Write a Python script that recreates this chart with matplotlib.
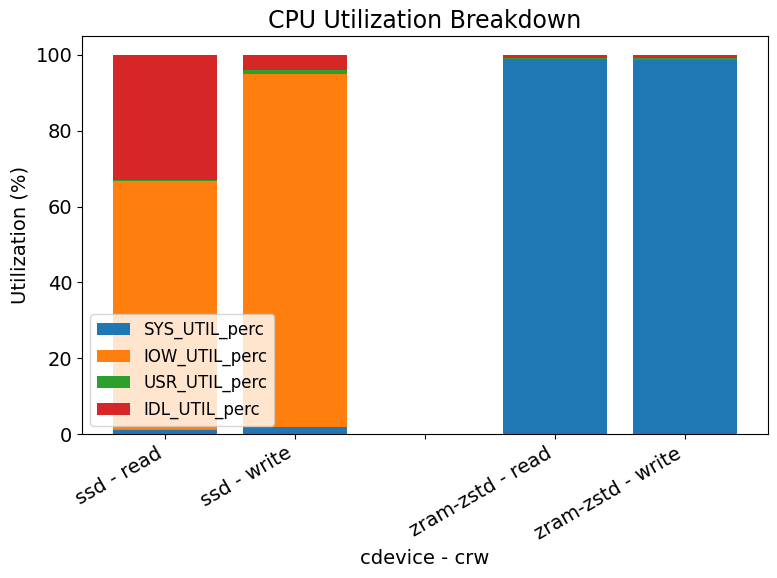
import matplotlib
matplotlib.use("Agg")
import matplotlib.pyplot as plt
import numpy as np

categories = ["ssd - read", "ssd - write", "", "zram-zstd - read", "zram-zstd - write"]
sys_util = [1.05, 1.9, 0.0, 98.9, 98.7]
iow_util = [65.7, 93.1, 0.0, 0.0, 0.0]
usr_util = [0.3, 1.0, 0.0, 0.4, 0.6]
idl_util = [32.95, 4.0, 0.0, 0.7, 0.7]

series = [
    ("SYS_UTIL_perc", sys_util, "#1f77b4"),
    ("IOW_UTIL_perc", iow_util, "#ff7f0e"),
    ("USR_UTIL_perc", usr_util, "#2ca02c"),
    ("IDL_UTIL_perc", idl_util, "#d62728"),
]

fig, ax = plt.subplots(figsize=(7.77, 5.78), dpi=100)
x = np.arange(len(categories))
bottom = np.zeros(len(categories))
for name, vals, color in series:
    v = np.array(vals, dtype=float)
    ax.bar(x, v, 0.8, bottom=bottom, label=name, color=color)
    bottom += v

ax.set_xticks(x)
ax.set_xticklabels(categories, rotation=30, ha="right", fontsize=14)
ax.tick_params(axis="y", labelsize=14)
ax.set_xlabel("cdevice - crw", fontsize=14)
ax.set_ylabel("Utilization (%)", fontsize=14)
ax.set_title("CPU Utilization Breakdown", fontsize=17)
ax.legend(loc="lower left", fontsize=12)
fig.subplots_adjust(left=82/777, right=768/777, top=1-36/578, bottom=1-434/578)
fig.savefig("out.png", dpi=100)
